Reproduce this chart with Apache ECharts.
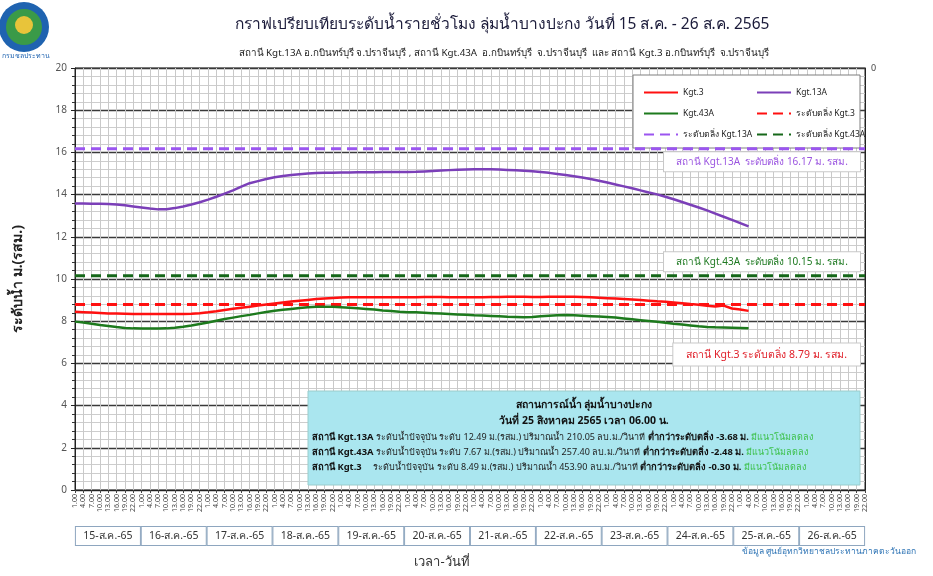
<!DOCTYPE html>
<html>
<head>
<meta charset="utf-8">
<script src="https://cdn.jsdelivr.net/npm/echarts@6/dist/echarts.min.js"></script>
<style>
  html, body { margin: 0; padding: 0; background: #fff; }
  #chart { width: 933px; height: 576px; }
</style>
</head>
<body>
<div id="chart"></div>
<script>
// Time axis: 8 readings per day (every 3 hours), 15-26 Aug 2565
const days = ['15-ส.ค.-65', '16-ส.ค.-65', '17-ส.ค.-65', '18-ส.ค.-65', '19-ส.ค.-65', '20-ส.ค.-65',
              '21-ส.ค.-65', '22-ส.ค.-65', '23-ส.ค.-65', '24-ส.ค.-65', '25-ส.ค.-65', '26-ส.ค.-65'];
const hours = ['1.00', '4.00', '7.00', '10.00', '13.00', '16.00', '19.00', '22.00'];

// Water level (m. MSL) per station
const kgt13A = [13.58, 13.58, 13.57, 13.57, 13.56, 13.53, 13.49, 13.44, 13.39, 13.34,
                13.30, 13.31, 13.36, 13.44, 13.53, 13.64, 13.76, 13.90, 14.05, 14.20,
                14.38, 14.54, 14.64, 14.74, 14.82, 14.88, 14.93, 14.97, 15.00, 15.02,
                15.04, 15.04, 15.05, 15.05, 15.06, 15.06, 15.06, 15.07, 15.07, 15.07,
                15.07, 15.08, 15.10, 15.12, 15.14, 15.16, 15.18, 15.19, 15.20, 15.20,
                15.20, 15.19, 15.17, 15.15, 15.13, 15.11, 15.07, 15.03, 14.98, 14.93,
                14.87, 14.81, 14.74, 14.66, 14.57, 14.48, 14.39, 14.30, 14.20, 14.10,
                14.01, 13.90, 13.78, 13.65, 13.52, 13.39, 13.25, 13.10, 12.95, 12.80,
                12.65, 12.49];
const kgt43A = [7.98, 7.94, 7.88, 7.82, 7.77, 7.72, 7.68, 7.66, 7.65, 7.65,
                7.65, 7.66, 7.69, 7.74, 7.80, 7.87, 7.94, 8.02, 8.10, 8.17,
                8.24, 8.30, 8.37, 8.44, 8.50, 8.54, 8.58, 8.62, 8.66, 8.69,
                8.69, 8.68, 8.66, 8.64, 8.61, 8.58, 8.55, 8.51, 8.48, 8.45,
                8.43, 8.42, 8.40, 8.38, 8.36, 8.34, 8.32, 8.30, 8.28, 8.27,
                8.25, 8.23, 8.21, 8.20, 8.19, 8.20, 8.23, 8.26, 8.28, 8.29,
                8.28, 8.26, 8.24, 8.22, 8.20, 8.17, 8.13, 8.09, 8.05, 8.01,
                7.97, 7.93, 7.88, 7.84, 7.80, 7.76, 7.73, 7.71, 7.70, 7.69,
                7.68, 7.67];
const kgt3 = [8.45, 8.43, 8.41, 8.39, 8.37, 8.36, 8.35, 8.34, 8.34, 8.34,
              8.34, 8.34, 8.34, 8.34, 8.35, 8.38, 8.42, 8.47, 8.53, 8.59,
              8.64, 8.69, 8.74, 8.79, 8.84, 8.89, 8.93, 8.97, 9.01, 9.05,
              9.08, 9.10, 9.12, 9.13, 9.13, 9.14, 9.14, 9.14, 9.13, 9.13,
              9.14, 9.14, 9.15, 9.15, 9.15, 9.14, 9.14, 9.13, 9.13, 9.14,
              9.15, 9.15, 9.16, 9.16, 9.16, 9.15, 9.15, 9.16, 9.16, 9.16,
              9.16, 9.15, 9.13, 9.11, 9.09, 9.07, 9.05, 9.03, 9.00, 8.97,
              8.94, 8.92, 8.89, 8.85, 8.81, 8.78, 8.73, 8.70, 8.74, 8.60,
              8.55, 8.49];

// Bank-full levels (m. MSL)
const bank13A = 16.17;
const bank43A = 10.15;
const bank3 = 8.79;

// Discharge at the latest reading (cu.m./s)
const flow13A = 210.05;
const flow43A = 257.40;
const flow3 = 453.90;

const PURPLE = '#7b3fb8';
const PURPLE_BANK = '#9b55f0';
const GREEN = '#1d7a1d';
const GREEN_BANK = '#16681a';
const RED = '#ff1010';
const FONT = 'Tahoma, "Noto Sans", "DejaVu Sans", sans-serif';

const categories = [];
days.forEach(d => hours.forEach(h => categories.push(d + ' ' + h)));
const firstCat = categories[0];
const lastCat = categories[categories.length - 1];

function bankLine(v) { return [[firstCat, v], [lastCat, v]]; }
function bankLabel(text, v, color, dy, size, pad) {
  return {
    symbol: 'rect', symbolSize: 2, silent: true,
    itemStyle: { color: 'rgba(0,0,0,0)' },
    data: [{ coord: [lastCat, v], value: v }],
    label: {
      show: true, position: 'left', distance: 4, offset: [0, dy],
      formatter: text, color: color, fontSize: size, fontFamily: FONT,
      backgroundColor: '#fff', borderColor: '#c8c8c8', borderWidth: 1,
      padding: pad
    }
  };
}
const fmt = v => v.toFixed(2);
const last = a => a[a.length - 1];
const diff = (a, b) => (last(a) - b).toFixed(2);

const chart = echarts.init(document.getElementById('chart'));

const infoLines = [
  ['สถานี Kgt.13A', ' ระดับน้ำปัจจุบัน ระดับ ' + fmt(last(kgt13A)) + ' ม.(รสม.) ปริมาณน้ำ ' + fmt(flow13A) + ' ลบ.ม./วินาที ', 'ต่ำกว่าระดับตลิ่ง ' + diff(kgt13A, bank13A) + ' ม.'],
  ['สถานี Kgt.43A', ' ระดับน้ำปัจจุบัน ระดับ ' + fmt(last(kgt43A)) + ' ม.(รสม.) ปริมาณน้ำ ' + fmt(flow43A) + ' ลบ.ม./วินาที ', 'ต่ำกว่าระดับตลิ่ง ' + diff(kgt43A, bank43A) + ' ม.'],
  ['สถานี Kgt.3', '     ระดับน้ำปัจจุบัน ระดับ ' + fmt(last(kgt3)) + ' ม.(รสม.) ปริมาณน้ำ ' + fmt(flow3) + ' ลบ.ม./วินาที ', 'ต่ำกว่าระดับตลิ่ง ' + diff(kgt3, bank3) + ' ม.']
];

const graphics = [
  // department emblem
  { type: 'circle', shape: { cx: 24, cy: 27, r: 25 }, style: { fill: '#1f63b0' }, z: 1 },
  { type: 'circle', shape: { cx: 24, cy: 27, r: 18 }, style: { fill: '#3a9a48' }, z: 1 },
  { type: 'circle', shape: { cx: 24, cy: 25, r: 9 }, style: { fill: '#e8c43a' }, z: 1 },
  { type: 'text', x: 2, y: 52, style: { text: 'กรมชลประทาน', fill: '#1f63b0', font: '7px ' + FONT }, z: 1 },
  // titles
  { type: 'text', x: 502, y: 17, style: { text: 'กราฟเปรียบเทียบระดับน้ำรายชั่วโมง ลุ่มน้ำบางปะกง วันที่ 15 ส.ค. - 26 ส.ค. 2565', fill: '#1b1b3a', font: '15.5px ' + FONT, align: 'center' } },
  { type: 'text', x: 504, y: 48, style: { text: 'สถานี Kgt.13A อ.กบินทร์บุรี จ.ปราจีนบุรี , สถานี Kgt.43A  อ.กบินทร์บุรี  จ.ปราจีนบุรี  และ สถานี Kgt.3 อ.กบินทร์บุรี  จ.ปราจีนบุรี', fill: '#222', font: '9.8px ' + FONT, align: 'center' } },
  // legend frame
  { type: 'rect', shape: { x: 633, y: 75, width: 227, height: 73 }, style: { fill: '#fff', stroke: '#7f7f7f', lineWidth: 1 }, z: 3 },
  // situation box
  { type: 'rect', shape: { x: 308, y: 391, width: 552, height: 94 }, style: { fill: '#aae6ef', stroke: '#9cc', lineWidth: 1 }, z: 3 },
  { type: 'text', x: 584, y: 400, style: { text: 'สถานการณ์น้ำ ลุ่มน้ำบางปะกง', fill: '#111', font: 'bold 10.5px ' + FONT, align: 'center' }, z: 4 },
  { type: 'text', x: 584, y: 416, style: { text: 'วันที่ 25 สิงหาคม 2565 เวลา 06.00 น.', fill: '#111', font: 'bold 10.5px ' + FONT, align: 'center' }, z: 4 },
  // axis title and source
  { type: 'text', x: 442, y: 556, style: { text: 'เวลา-วันที่', fill: '#333', font: '13px ' + FONT, align: 'center' } },
  { type: 'text', x: 916, y: 547, style: { text: 'ข้อมูล ศูนย์อุทกวิทยาชลประทานภาคตะวันออก', fill: '#2e74b5', font: '8.5px ' + FONT, align: 'right' } }
];
infoLines.forEach((l, i) => {
  graphics.push({
    type: 'text', x: 312, y: 433 + i * 15, z: 4,
    style: {
      text: '{b|' + l[0] + '}{n|' + l[1] + '}{b|' + l[2] + '}{g| มีแนวโน้มลดลง}',
      font: '9px ' + FONT,
      rich: {
        b: { fontWeight: 'bold', fontSize: 9.4, fill: '#111', fontFamily: FONT },
        n: { fontSize: 9, fill: '#222', fontFamily: FONT },
        g: { fontSize: 9, fill: '#3cc04a', fontFamily: FONT }
      }
    }
  });
});

const legendText = { fontSize: 8.5, color: '#222', fontFamily: FONT };
const legendCommon = { orient: 'vertical', top: 83, itemWidth: 34, itemHeight: 10, itemGap: 12, z: 5,
                       textStyle: legendText, itemStyle: { opacity: 0 } };

chart.setOption({
  animation: false,
  backgroundColor: '#fff',
  textStyle: { fontFamily: FONT },
  grid: { left: 75, right: 68, top: 68, bottom: 86, show: true, borderColor: '#222', borderWidth: 1, backgroundColor: 'transparent' },
  legend: [
    Object.assign({ left: 638, data: ['Kgt.3', 'Kgt.43A', 'ระดับตลิ่ง Kgt.13A'] }, legendCommon),
    Object.assign({ left: 751, data: ['Kgt.13A', 'ระดับตลิ่ง Kgt.3', 'ระดับตลิ่ง Kgt.43A'] }, legendCommon)
  ],
  xAxis: [
    {
      type: 'category', data: categories, boundaryGap: false,
      axisLine: { lineStyle: { color: '#222' } },
      axisTick: { show: true, length: 3, interval: 0, lineStyle: { color: '#444' } },
      axisLabel: { interval: 0, rotate: 90, fontSize: 7, color: '#444', margin: 4,
                   formatter: v => v.split(' ')[1] },
      splitLine: { show: true, interval: 0, lineStyle: { color: '#c9c9c9', width: 1 } }
    },
    {
      type: 'category', data: days, position: 'bottom', offset: 37,
      axisLine: { show: false }, axisTick: { show: false },
      axisLabel: { interval: 0, margin: 0, fontSize: 10.5, color: '#333', width: 64, height: 17, lineHeight: 17,
                   align: 'center', verticalAlign: 'top', borderColor: '#8ea6bf', borderWidth: 1, backgroundColor: '#fff', padding: [1, 0, 0, 0] },
      splitLine: { show: false }
    }
  ],
  yAxis: [
    {
      type: 'value', min: 0, max: 20, interval: 2,
      name: 'ระดับน้ำ ม.(รสม.)', nameLocation: 'middle', nameGap: 50, nameRotate: 90,
      nameTextStyle: { fontSize: 14, color: '#222', fontWeight: 'bold', fontFamily: FONT },
      axisLine: { show: true, lineStyle: { color: '#222' } },
      axisTick: { show: true, length: 4, lineStyle: { color: '#222' } },
      minorTick: { show: true, splitNumber: 5, length: 3, lineStyle: { color: '#333' } },
      axisLabel: { fontSize: 10, color: '#555', margin: 8 },
      splitLine: { show: true, lineStyle: { color: '#3a3a3a', width: 1.3 } },
      minorSplitLine: { show: true, lineStyle: { color: '#cdcdcd', width: 1 } }
    },
    {
      type: 'value', min: 0, max: 20, interval: 20, inverse: true, position: 'right',
      axisLine: { show: true, lineStyle: { color: '#222' } },
      axisTick: { show: false },
      axisLabel: { fontSize: 9, color: '#444', margin: 6, formatter: v => (v === 0 ? '0' : '') },
      splitLine: { show: false }
    }
  ],
  series: [
    { name: 'Kgt.3', type: 'line', data: kgt3, symbol: 'none', z: 4, lineStyle: { color: RED, width: 2.5 }, itemStyle: { color: RED } },
    { name: 'Kgt.13A', type: 'line', data: kgt13A, symbol: 'none', z: 4, lineStyle: { color: PURPLE, width: 2.5 }, itemStyle: { color: PURPLE } },
    { name: 'Kgt.43A', type: 'line', data: kgt43A, symbol: 'none', z: 4, lineStyle: { color: GREEN, width: 2.5 }, itemStyle: { color: GREEN } },
    { name: 'ระดับตลิ่ง Kgt.3', type: 'line', data: bankLine(bank3), symbol: 'none', z: 3,
      lineStyle: { color: RED, width: 3, type: [10, 6] }, itemStyle: { color: RED },
      markPoint: bankLabel('สถานี Kgt.3 ระดับตลิ่ง ' + fmt(bank3) + ' ม. รสม.', bank3, '#e0202a', 50, 10.5, [6, 13, 5, 13]) },
    { name: 'ระดับตลิ่ง Kgt.13A', type: 'line', data: bankLine(bank13A), symbol: 'none', z: 3,
      lineStyle: { color: PURPLE_BANK, width: 3, type: [10, 6] }, itemStyle: { color: PURPLE_BANK },
      markPoint: bankLabel('สถานี Kgt.13A  ระดับตลิ่ง ' + fmt(bank13A) + ' ม. รสม.', bank13A, '#9b55e0', 13, 10, [5, 12, 4, 12]) },
    { name: 'ระดับตลิ่ง Kgt.43A', type: 'line', data: bankLine(bank43A), symbol: 'none', z: 3,
      lineStyle: { color: GREEN_BANK, width: 3, type: [10, 6] }, itemStyle: { color: GREEN_BANK },
      markPoint: bankLabel('สถานี Kgt.43A  ระดับตลิ่ง ' + fmt(bank43A) + ' ม. รสม.', bank43A, '#1f7a22', -14, 10, [5, 12, 4, 12]) }
  ],
  graphic: graphics
});
</script>
</body>
</html>
